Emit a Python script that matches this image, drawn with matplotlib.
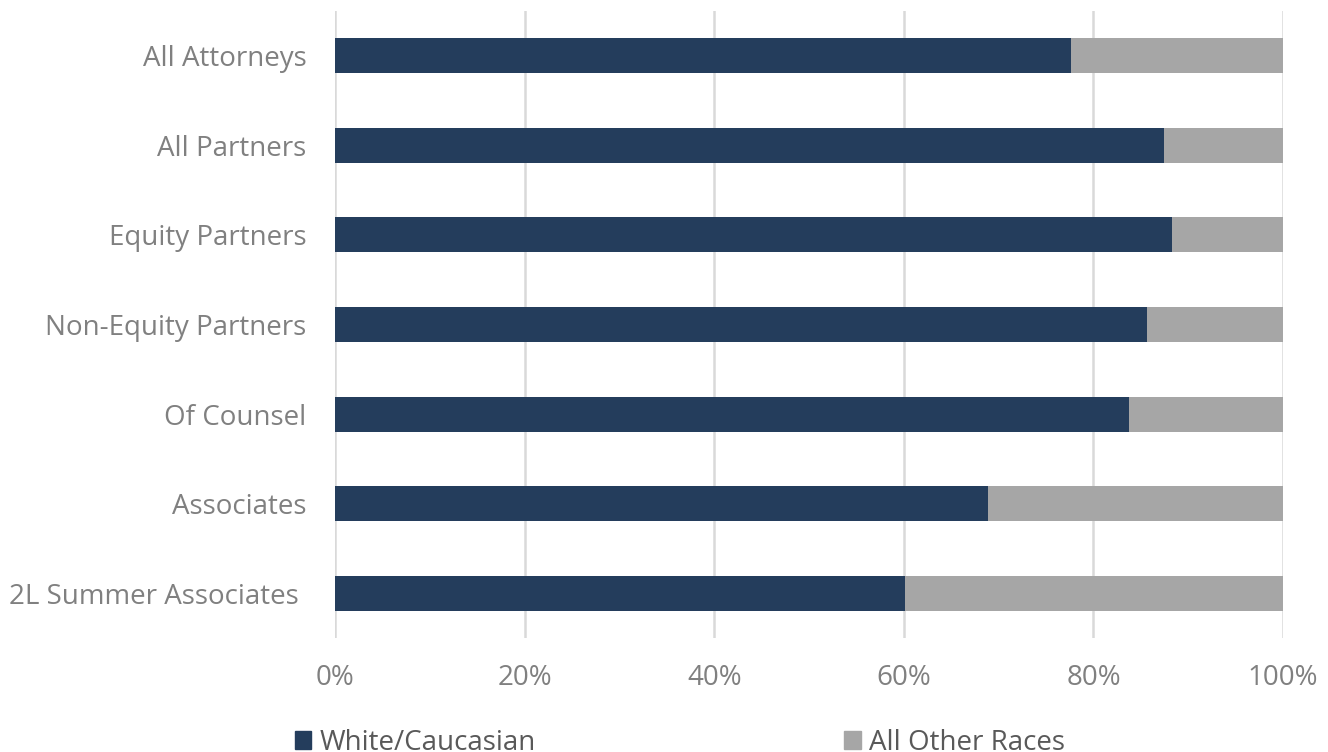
import matplotlib
matplotlib.use('Agg')
import matplotlib.pyplot as plt
from matplotlib.ticker import PercentFormatter
from matplotlib.patches import Patch

# 各职级中白人/白种人律师所占比例 (%)
categories = ['All Attorneys', 'All Partners', 'Equity Partners', 'Non-Equity Partners',
              'Of Counsel', 'Associates', '2L Summer Associates ']
white_pct = [77.6, 87.4, 88.3, 85.7, 83.8, 68.9, 60.1]
other_pct = [100 - v for v in white_pct]
xticks = [0, 20, 40, 60, 80, 100]

navy = '#243d5c'
gray = '#a6a6a6'

plt.rcParams['font.family'] = ['Open Sans', 'DejaVu Sans']

fig = plt.figure(figsize=(13.28, 7.52), dpi=100)
ax = fig.add_axes([0.2526, 0.1516, 0.7135, 0.8338])

y = list(range(len(categories)))
ax.barh(y, white_pct, height=0.39, color=navy, zorder=3)
ax.barh(y, other_pct, left=white_pct, height=0.39, color=gray, zorder=3)

ax.set_ylim(len(categories) - 0.5, -0.5)
ax.set_xlim(0, 100)
ax.set_yticks(y)
ax.set_yticklabels(categories)
ax.set_xticks(xticks)
ax.xaxis.set_major_formatter(PercentFormatter(decimals=0))

ax.grid(axis='x', color='#d9d9d9', linewidth=1.8, zorder=0)
for s in ax.spines.values():
    s.set_visible(False)
ax.tick_params(axis='both', length=0, labelsize=20, labelcolor='#808080')
ax.tick_params(axis='y', pad=21)
ax.tick_params(axis='x', pad=19)

handles = [Patch(color=navy, label='White/Caucasian'),
           Patch(color=gray, label='All Other Races')]
fig.legend(handles=handles, loc='upper left', bbox_to_anchor=(0.222, 0.031),
           ncol=2, frameon=False, fontsize=20, labelcolor='#595959',
           handlelength=0.6, handleheight=0.6, handletextpad=0.3,
           columnspacing=11.1, borderaxespad=0, borderpad=0)

plt.savefig('out.png', dpi=100)
plt.close()
